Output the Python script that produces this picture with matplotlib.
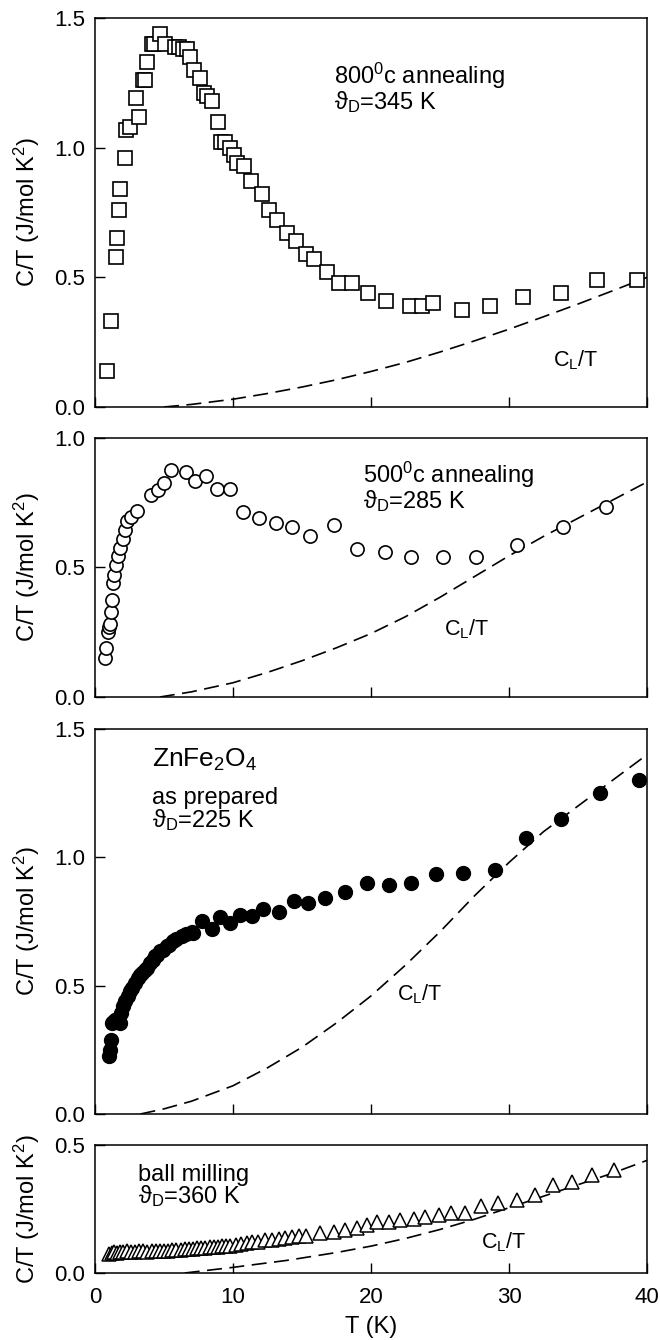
import matplotlib
matplotlib.use("Agg")
import matplotlib.pyplot as plt

plt.rcParams['font.family'] = ['Liberation Sans', 'DejaVu Sans']
plt.rcParams['mathtext.fontset'] = 'custom'
plt.rcParams['mathtext.rm'] = 'Liberation Sans'
plt.rcParams['mathtext.it'] = 'Liberation Sans:italic'
plt.rcParams['mathtext.bf'] = 'Liberation Sans:bold'
plt.rcParams['mathtext.sf'] = 'Liberation Sans'

# --- 800 C annealing (open squares)
sq_T = [0.9, 1.17, 1.5, 1.6, 1.73, 1.83, 2.15, 2.27, 2.56, 3.0, 3.17, 3.5, 3.6, 3.8, 4.15, 4.3,
        4.7, 5.1, 5.8, 6.1, 6.4, 6.7, 6.9, 7.2, 7.6, 7.9, 8.1, 8.5, 8.9, 9.15, 9.4, 9.75, 10.1,
        10.3, 10.8, 11.3, 12.1, 12.6, 13.2, 13.95, 14.6, 15.3, 15.9, 16.8, 17.7, 18.6, 19.8,
        21.1, 22.8, 23.7, 24.5, 26.6, 28.6, 31.0, 33.8, 36.4, 39.3]
sq_C = [0.14, 0.33, 0.58, 0.65, 0.76, 0.84, 0.96, 1.07, 1.08, 1.19, 1.12, 1.26, 1.26, 1.33, 1.40,
        1.40, 1.44, 1.40, 1.39, 1.39, 1.38, 1.38, 1.35, 1.30, 1.27, 1.21, 1.20, 1.18, 1.10, 1.02,
        1.02, 1.00, 0.97, 0.94, 0.93, 0.87, 0.82, 0.76, 0.72, 0.67, 0.64, 0.59, 0.57, 0.52, 0.48,
        0.48, 0.44, 0.41, 0.39, 0.39, 0.40, 0.375, 0.39, 0.425, 0.44, 0.49, 0.49]
cl1_T = [5.0, 7.0, 10.0, 12.5, 15.0, 17.5, 20.0, 22.5, 25.0, 27.5, 30.0, 32.5, 35.0, 37.5, 40.0]
cl1_C = [0.0, 0.01, 0.03, 0.052, 0.077, 0.105, 0.137, 0.172, 0.212, 0.255, 0.30, 0.348, 0.397, 0.448, 0.50]

# --- 500 C annealing (open circles)
oc_T = [0.75, 0.8, 0.95, 1.04, 1.1, 1.14, 1.21, 1.28, 1.38, 1.53, 1.70, 1.82, 2.01, 2.18, 2.35,
        2.59, 3.03, 4.07, 4.56, 5.02, 5.5, 6.6, 7.27, 8.07, 8.85, 9.77, 10.7, 11.9, 13.1, 14.3,
        15.6, 17.3, 19.0, 21.0, 22.9, 25.2, 27.6, 30.6, 33.9, 37.0]
oc_C = [0.15, 0.19, 0.25, 0.27, 0.28, 0.33, 0.375, 0.44, 0.47, 0.51, 0.545, 0.575, 0.61, 0.645,
        0.68, 0.695, 0.72, 0.78, 0.80, 0.825, 0.876, 0.87, 0.834, 0.853, 0.803, 0.803, 0.715,
        0.69, 0.673, 0.657, 0.622, 0.664, 0.57, 0.56, 0.54, 0.54, 0.54, 0.587, 0.657, 0.735]
cl2_T = [4.7, 7.0, 10.0, 12.5, 15.0, 17.5, 20.0, 22.5, 25.0, 27.5, 30.0, 32.5, 35.0, 37.5, 40.0]
cl2_C = [0.0, 0.02, 0.055, 0.095, 0.14, 0.19, 0.245, 0.31, 0.385, 0.465, 0.545, 0.62, 0.69, 0.76, 0.83]

# --- as prepared (filled circles)
fc_T = [1.04, 1.09, 1.14, 1.21, 1.3, 1.45, 1.6, 1.81, 1.86, 2.05, 2.2, 2.42, 2.54, 2.7, 2.9, 3.1,
        3.26, 3.4, 3.62, 3.8, 3.99, 4.2, 4.35, 4.5, 4.71, 4.9, 5.2, 5.4, 5.68, 5.9, 6.28, 6.6,
        7.0, 7.13, 7.73, 8.45, 9.06, 9.78, 10.5, 11.35, 12.2, 13.35, 14.4, 15.4, 16.7, 18.1,
        19.7, 21.3, 22.9, 24.7, 26.7, 29.0, 31.2, 33.8, 36.6, 39.4]
fc_C = [0.227, 0.25, 0.289, 0.354, 0.36, 0.367, 0.37, 0.354, 0.393, 0.419, 0.44, 0.458, 0.478,
        0.49, 0.51, 0.53, 0.543, 0.55, 0.562, 0.57, 0.588, 0.60, 0.614, 0.62, 0.634, 0.64, 0.653,
        0.66, 0.673, 0.68, 0.693, 0.70, 0.71, 0.706, 0.751, 0.719, 0.768, 0.745, 0.777, 0.773,
        0.80, 0.786, 0.829, 0.823, 0.843, 0.864, 0.90, 0.892, 0.90, 0.934, 0.94, 0.95, 1.077,
        1.151, 1.25, 1.30]
cl3_T = [3.3, 5.0, 7.0, 10.0, 12.5, 15.0, 17.5, 20.0, 22.5, 25.0, 27.5, 30.0, 32.5, 35.0, 37.5, 40.0]
cl3_C = [0.0, 0.02, 0.05, 0.11, 0.18, 0.26, 0.355, 0.46, 0.58, 0.71, 0.85, 0.98, 1.10, 1.20, 1.30, 1.40]

# --- ball milling (open triangles)
tr_T = [1.0, 1.2, 1.4, 1.6, 1.8, 2.0, 2.3, 2.6, 2.9, 3.2, 3.5, 3.8, 4.1, 4.4, 4.7, 5.0, 5.3, 5.6,
        5.9, 6.2, 6.5, 6.8, 7.1, 7.4, 7.7, 8.0, 8.3, 8.6, 8.9, 9.2, 9.5, 9.8, 10.2, 10.6, 11.0,
        11.4, 11.8, 12.3, 12.8, 13.3, 13.8, 14.3, 14.8, 15.3, 16.3, 17.3, 18.1, 19.0, 19.7, 20.4,
        21.3, 22.1, 23.1, 23.9, 24.9, 25.8, 26.8, 28.0, 29.2, 30.6, 31.9, 33.2, 34.6, 36.0, 37.6]
tr_C = [0.075, 0.08, 0.082, 0.08, 0.083, 0.082, 0.085, 0.084, 0.083, 0.085, 0.086, 0.084, 0.085,
        0.087, 0.086, 0.085, 0.087, 0.088, 0.09, 0.09, 0.092, 0.093, 0.095, 0.096, 0.097, 0.098,
        0.10, 0.10, 0.102, 0.104, 0.105, 0.107, 0.11, 0.113, 0.117, 0.12, 0.122, 0.127, 0.13,
        0.134, 0.137, 0.14, 0.143, 0.145, 0.155, 0.161, 0.168, 0.175, 0.1875, 0.2, 0.2, 0.207,
        0.21, 0.22, 0.227, 0.236, 0.236, 0.262, 0.275, 0.285, 0.305, 0.344, 0.357, 0.383, 0.402]
cl4_T = [6.5, 10, 14, 17.5, 20, 22.5, 25, 27.5, 30, 32.5, 35, 37.5, 40]
cl4_C = [0.0, 0.022, 0.05, 0.08, 0.105, 0.135, 0.17, 0.21, 0.255, 0.30, 0.345, 0.39, 0.44]

YLABEL = r'C/T (J/mol K$^{2}$)'
CL = r'C$_{\rm L}$/T'

fig = plt.figure(figsize=(6.6, 13.4), dpi=100)
L, W = 0.1439, 0.8364
ax1 = fig.add_axes([L, 0.69627, W, 0.2903])
ax2 = fig.add_axes([L, 0.47985, W, 0.1933])
ax3 = fig.add_axes([L, 0.16866, W, 0.2873])
ax4 = fig.add_axes([L, 0.0500, W, 0.0955])

dash_kw = dict(color='black', lw=1.2, dashes=(9, 4.5))
ax1.plot(cl1_T, cl1_C, **dash_kw)
ax1.plot(sq_T, sq_C, 's', ms=9.5, mfc='white', mec='black', mew=1.2)
ax2.plot(cl2_T, cl2_C, **dash_kw)
ax2.plot(oc_T, oc_C, 'o', ms=9.5, mfc='white', mec='black', mew=1.2)
ax3.plot(cl3_T, cl3_C, **dash_kw)
ax3.plot(fc_T, fc_C, 'o', ms=10, mfc='black', mec='black', mew=1.0)
ax4.plot(cl4_T, cl4_C, **dash_kw)
ax4.plot(tr_T, tr_C, '^', ms=10, mfc='white', mec='black', mew=1.1)

for ax, ytop, yt in [(ax1, 1.5, [0, 0.5, 1.0, 1.5]), (ax2, 1.0, [0, 0.5, 1.0]),
                     (ax3, 1.5, [0, 0.5, 1.0, 1.5]), (ax4, 0.5, [0, 0.5])]:
    ax.set_xlim(0, 40)
    ax.set_ylim(0, ytop)
    ax.set_yticks(yt)
    ax.set_yticklabels(['%.1f' % v for v in yt])
    ax.set_xticks([0, 10, 20, 30, 40])
    ax.tick_params(direction='in', length=7, width=1, labelsize=16)
    ax.tick_params(axis='y', pad=7)
    ax.tick_params(axis='x', pad=10)
    for s in ax.spines.values():
        s.set_linewidth(1.1)
    ax.set_ylabel(YLABEL, fontsize=17)
    ax.yaxis.set_label_coords(-0.096, 0.5)
    if ax is not ax4:
        ax.tick_params(axis='x', labelbottom=False)

# annotations (two-line blocks)
ax1.text(17.3, 1.232, '800$^{0}$c annealing\nϑ$_{\\rm D}$=345 K', fontsize=17,
         va='center', linespacing=0.9)
ax1.text(33.2, 0.18, CL, fontsize=15.5, va='center')

ax2.text(19.4, 0.81, '500$^{0}$c annealing\nϑ$_{\\rm D}$=285 K', fontsize=17,
         va='center', linespacing=0.9)
ax2.text(25.3, 0.26, CL, fontsize=15.5, va='center')

ax3.text(4.1, 1.38, r'ZnFe$_{2}$O$_{4}$', fontsize=19, va='center')
ax3.text(4.1, 1.185, 'as prepared\nϑ$_{\\rm D}$=225 K', fontsize=17,
         va='center', linespacing=0.9)
ax3.text(21.9, 0.465, CL, fontsize=15.5, va='center')

ax4.text(3.1, 0.338, 'ball milling\nϑ$_{\\rm D}$=360 K', fontsize=17,
         va='center', linespacing=0.85)
ax4.text(28.0, 0.12, CL, fontsize=15.5, va='center')

fig.text(371 / 660, 1 - 1327 / 1340, 'T (K)', fontsize=17, ha='center', va='center')

fig.savefig('out.png', dpi=100)
